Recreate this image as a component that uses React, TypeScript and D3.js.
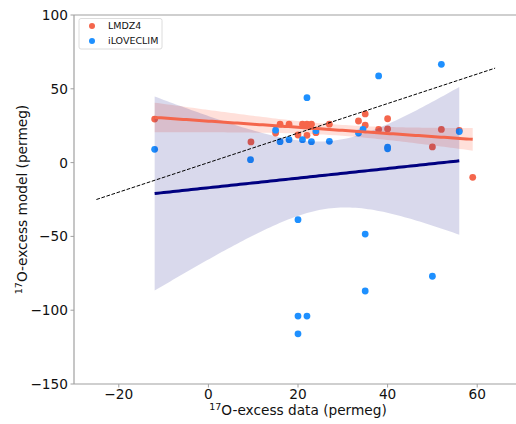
import React from "react";
import * as d3 from "d3";

// LMDZ4 (data, model)
const lmdzX = [-12, 9.5, 15, 16, 18, 21, 22, 23, 20, 22, 24, 27, 33.5, 35, 35, 38, 40, 40, 50, 52, 56, 59];
const lmdzY = [29.5, 14, 20, 26, 26, 26, 26, 26, 18.7, 18.5, 20.3, 26, 28.2, 33, 25.3, 22.5, 29.7, 22.8, 10.6, 22.5, 21.9, -10];
// iLOVECLIM (data, model)
const ilovX = [-12, 9.4, 15, 16, 18, 21, 23, 24, 27, 22, 38, 52, 33.5, 34.5, 40, 40, 56, 20, 35, 50, 35, 20, 22, 20];
const ilovY = [9, 2, 22, 14.2, 15.5, 15.5, 14.2, 21.6, 14.4, 44, 58.7, 66.6, 20, 22.5, 9.4, 10.5, 21, -38.7, -48.4, -77, -87, -104, -104, -116];

const xTicks = [-20, 0, 20, 40, 60];
const yTicks = [100, 50, 0, -50, -100, -150];
const oneToOne = [-25, 64];

const W = 516, H = 424;
const x = d3.scaleLinear().domain([-30, 70]).range([74, 522]);
const y = d3.scaleLinear().domain([-150, 100]).range([384, 15]);

function fit(xs: number[], ys: number[], t: number) {
  const n = xs.length;
  const xm = d3.mean(xs)!, ym = d3.mean(ys)!;
  let sxx = 0, sxy = 0;
  xs.forEach((v, i) => { sxx += (v - xm) ** 2; sxy += (v - xm) * (ys[i] - ym); });
  const b = sxy / sxx, a = ym - b * xm;
  let sse = 0;
  xs.forEach((v, i) => { sse += (ys[i] - a - b * v) ** 2; });
  const s = Math.sqrt(sse / (n - 2));
  const x0 = d3.min(xs)!, x1 = d3.max(xs)!;
  const grid = d3.range(0, 101).map(k => x0 + (x1 - x0) * k / 100);
  const band = grid.map(g => {
    const yh = a + b * g;
    const h = t * s * Math.sqrt(1 / n + (g - xm) ** 2 / sxx);
    return { g, yh, lo: yh - h, hi: yh + h };
  });
  return { band, x0, x1, a, b };
}

const FONT = "DejaVu Sans, Verdana, sans-serif";
const RED = "#f4664c";
const BLUE = "#1e90ff";
const NAVY = "#000080";

export default function App() {
  const rf = fit(lmdzX, lmdzY, 2.086);
  const bf = fit(ilovX, ilovY, 2.074);
  const area = d3.area<any>().x(d => x(d.g)).y0(d => y(d.lo)).y1(d => y(d.hi));
  const line = d3.line<any>().x(d => x(d.g)).y(d => y(d.yh));
  const sup = (rest: string) => (
    <>
      <tspan fontSize="9.5" dy="-5">17</tspan>
      <tspan dy="5">{rest}</tspan>
    </>
  );
  return (
    <svg width={W} height={H} style={{ position: "absolute", left: 0, top: 0, background: "#fff" }} fontFamily={FONT}>
      <rect width={W} height={H} fill="#fff" />
      {/* LMDZ4 scatter & band */}
      {lmdzX.map((v, i) => (
        <circle key={"r" + i} cx={x(v)} cy={y(lmdzY[i])} r={3.4} fill={RED} />
      ))}
      <path d={area(rf.band)!} fill="tomato" fillOpacity={0.2} />
      {/* iLOVECLIM scatter & band */}
      {ilovX.map((v, i) => (
        <circle key={"b" + i} cx={x(v)} cy={y(ilovY[i])} r={3.4} fill={BLUE} />
      ))}
      <path d={area(bf.band)!} fill={NAVY} fillOpacity={0.15} />
      {/* lines */}
      <path d={line(rf.band)!} fill="none" stroke={RED} strokeWidth={3} />
      <path d={line(bf.band)!} fill="none" stroke={NAVY} strokeWidth={3} />
      <line x1={x(oneToOne[0])} y1={y(oneToOne[0])} x2={x(oneToOne[1])} y2={y(oneToOne[1])}
        stroke="#000" strokeWidth={1} strokeDasharray="3.7,1.6" />
      {/* spines */}
      <g stroke="#a0a0a0" strokeWidth={1.2} fill="none">
        <line x1={74} y1={15} x2={74} y2={384} />
        <line x1={74} y1={384} x2={522} y2={384} />
        <line x1={74} y1={15} x2={522} y2={15} />
      </g>
      {/* y ticks */}
      {yTicks.map(t => (
        <g key={"yt" + t}>
          <line x1={70.5} x2={74} y1={y(t)} y2={y(t)} stroke="#a0a0a0" strokeWidth={1} />
          <text x={68} y={y(t)} dy="0.36em" textAnchor="end" fontSize={13.7} fill="#111">
            {t < 0 ? "\u2212" + Math.abs(t) : t}
          </text>
        </g>
      ))}
      {/* x ticks */}
      {xTicks.map(t => (
        <g key={"xt" + t}>
          <line x1={x(t)} x2={x(t)} y1={384} y2={387.5} stroke="#a0a0a0" strokeWidth={1} />
          <text x={x(t)} y={399} textAnchor="middle" fontSize={13.7} fill="#111">
            {t < 0 ? "\u2212" + Math.abs(t) : t}
          </text>
        </g>
      ))}
      {/* axis labels */}
      <text x={298} y={414.5} textAnchor="middle" fontSize={13.7} fill="#111">
        {sup("O-excess data (permeg)")}
      </text>
      <text transform={`translate(27,199.5) rotate(-90)`} textAnchor="middle" fontSize={13.7} fill="#111">
        {sup("O-excess model (permeg)")}
      </text>
      {/* legend */}
      <rect x={79} y={18.5} width={83} height={30.5} rx={2} fill="#fff" fillOpacity={0.8} stroke="#dcdcdc" strokeWidth={1} />
      <circle cx={92} cy={26} r={3} fill={RED} />
      <circle cx={92} cy={41} r={3} fill={BLUE} />
      <text x={108} y={26} dy="0.36em" fontSize={9.5} fill="#111">LMDZ4</text>
      <text x={108} y={41} dy="0.36em" fontSize={9.5} fill="#111">iLOVECLIM</text>
    </svg>
  );
}
